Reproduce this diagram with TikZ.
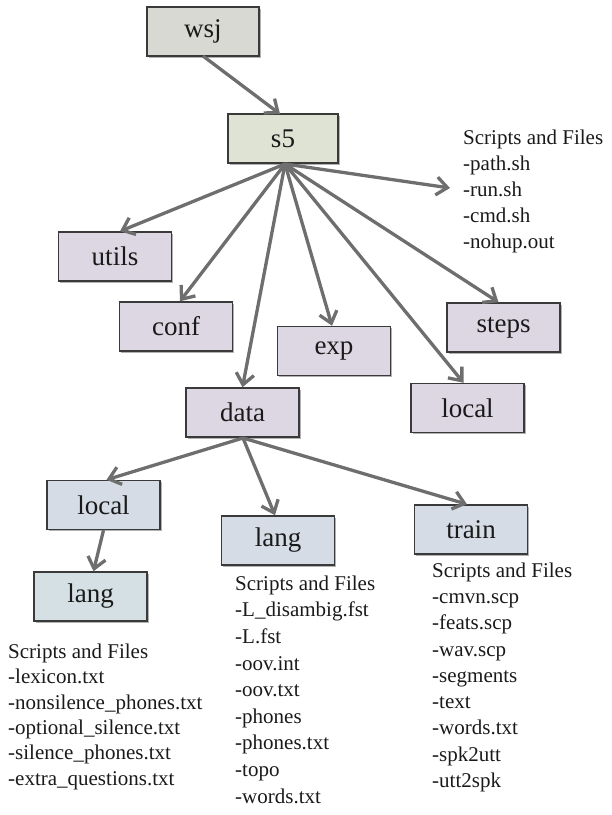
\documentclass[tikz,border=0pt]{standalone}
\usepackage{fontspec}
\setmainfont{Liberation Serif}
\usetikzlibrary{arrows.meta,shadows}
\definecolor{cgray}{HTML}{D9D9D3}
\definecolor{cgreen}{HTML}{DFE3D4}
\definecolor{clav}{HTML}{DCD7E2}
\definecolor{cblue}{HTML}{D5DCE6}
\definecolor{cteal}{HTML}{D4E0E4}
\definecolor{cline}{HTML}{3A3A3A}
\definecolor{carrow}{HTML}{6E6E6E}
\definecolor{ctext}{HTML}{1A1A1A}
\begin{document}
\begin{tikzpicture}[x=1pt,y=-1pt,
  box/.style={draw=cline, line width=1.5pt, minimum width=113pt, minimum height=49pt,
    inner sep=0pt, text=ctext, font=\fontsize{27}{30}\selectfont,
    drop shadow={shadow xshift=1.5pt, shadow yshift=-1.5pt, opacity=0.3, fill=black}},
  filelist/.style={anchor=north west, inner sep=0pt, align=left, text=ctext},
  conn/.style={draw=carrow, line width=3.3pt, -{Straight Barb[length=11pt,width=18pt,line width=3.3pt]}}]
\useasboundingbox (0,0) rectangle (612,815);

% boxes
\node[box, fill=cgray, minimum width=112pt] (wsj) at (203,31.5) {wsj};
\node[box, fill=cgreen, minimum width=110pt] (s5) at (283,138.5) {s5};
\node[box, fill=clav] (utils) at (115,256.5) {utils};
\node[box, fill=clav] (conf) at (176,326.5) {conf};
\node[box, fill=clav] (exp) at (334,351) {exp};
\node[box, fill=clav] (steps) at (503.5,327.5) {steps};
\node[box, fill=clav] (locA) at (467.5,408) {local};
\node[box, fill=clav] (data) at (242.5,412.5) {data};
\node[box, fill=cblue] (locB) at (103.5,505) {local};
\node[box, fill=cblue] (langB) at (278,540.5) {lang};
\node[box, fill=cblue] (train) at (471,529.5) {train};
\node[box, fill=cteal] (langA) at (90.5,596.5) {lang};

% file lists
\node[filelist, font=\fontsize{21}{26}\selectfont] (f1) at (463,129.5)
  {Scripts and Files\\-path.sh\\-run.sh\\-cmd.sh\\-nohup.out};
\node[filelist, font=\fontsize{21}{25.4}\selectfont] (f2) at (8,643.5)
  {Scripts and Files\\-lexicon.txt\\-nonsilence\_phones.txt\\-optional\_silence.txt\\-silence\_phones.txt\\-extra\_questions.txt};
\node[filelist, font=\fontsize{21}{26.6}\selectfont] (f3) at (235,575.5)
  {Scripts and Files\\-L\_disambig.fst\\-L.fst\\-oov.int\\-oov.txt\\-phones\\-phones.txt\\-topo\\-words.txt};
\node[filelist, font=\fontsize{21}{26.25}\selectfont] (f4) at (432,562.5)
  {Scripts and Files\\-cmvn.scp\\-feats.scp\\-wav.scp\\-segments\\-text\\-words.txt\\-spk2utt\\-utt2spk};

% connector points
\coordinate (wsjout) at (203,56);
\coordinate (s5in) at (280,114);
\coordinate (s5out) at (285,164);
\coordinate (sfin) at (450,188);
\coordinate (dout) at (243,438);

% connectors
\draw[conn] (wsjout) -- (s5in);
\draw[conn] (s5out) -- ([xshift=5pt]utils.north);
\draw[conn] (s5out) -- ([xshift=4pt]conf.north);
\draw[conn] (s5out) -- (data.north);
\draw[conn] (s5out) -- ([xshift=-2pt]exp.north);
\draw[conn] (s5out) -- ([xshift=-4pt]locA.north);
\draw[conn] (s5out) -- ([xshift=-5pt]steps.north);
\draw[conn] (s5out) -- (sfin);
\draw[conn] (dout) -- ([xshift=3pt]locB.north);
\draw[conn] (dout) -- ([xshift=-3pt]langB.north);
\draw[conn] (dout) -- ([xshift=-4pt]train.north);
\draw[conn] (locB.south) -- ([xshift=3pt]langA.north);
\end{tikzpicture}
\end{document}
